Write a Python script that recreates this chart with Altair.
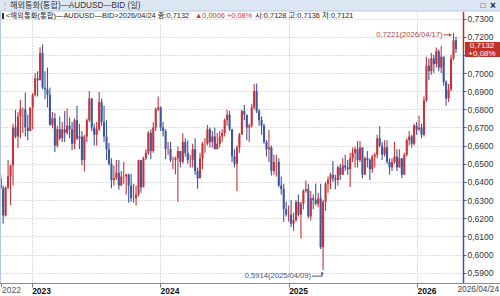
import altair as alt
import pandas as pd

# ---------------- data (weekly candles) ----------------
first_open = 0.6420

close_2022 = [0.6365, 0.6215, 0.6370, 0.6430, 0.6490, 0.6700, 0.6650, 0.6760, 0.6800, 0.6800, 0.6700, 0.6680, 0.6810]
high_2022 = [0.6440, 0.6380, 0.6375, 0.6522, 0.6495, 0.6720, 0.6797, 0.6785, 0.6851, 0.6810, 0.6893, 0.6770, 0.6810]
low_2022 = [0.6360, 0.6170, 0.6210, 0.6360, 0.6272, 0.6380, 0.6640, 0.6585, 0.6640, 0.6670, 0.6650, 0.6630, 0.6710]

close_2023 = [0.6880, 0.6970, 0.6960, 0.7110, 0.6920, 0.6910, 0.6880, 0.6715, 0.6750, 0.6600, 0.6690, 0.6640, 0.6690,
              0.6670, 0.6710, 0.6690, 0.6610, 0.6740, 0.6640, 0.6650, 0.6520, 0.6650, 0.6740, 0.6860, 0.6700, 0.6660,
              0.6690, 0.6840, 0.6730, 0.6650, 0.6580, 0.6500, 0.6410, 0.6420, 0.6450, 0.6380, 0.6430, 0.6430, 0.6440,
              0.6380, 0.6310, 0.6310, 0.6330, 0.6520, 0.6370, 0.6530, 0.6560, 0.6670, 0.6570, 0.6700, 0.6800, 0.6810]
high_2023 = [0.6890, 0.7000, 0.7010, 0.7142, 0.7158, 0.7010, 0.7030, 0.6920, 0.6785, 0.6780, 0.6710, 0.6760, 0.6730,
             0.6790, 0.6805, 0.6755, 0.6730, 0.6750, 0.6820, 0.6720, 0.6680, 0.6660, 0.6750, 0.6900, 0.6860, 0.6720,
             0.6730, 0.6895, 0.6860, 0.6820, 0.6740, 0.6615, 0.6530, 0.6490, 0.6520, 0.6520, 0.6460, 0.6510, 0.6445,
             0.6445, 0.6445, 0.6390, 0.6380, 0.6522, 0.6520, 0.6540, 0.6580, 0.6680, 0.6690, 0.6728, 0.6810, 0.6871]
low_2023 = [0.6690, 0.6870, 0.6870, 0.6960, 0.6910, 0.6855, 0.6810, 0.6710, 0.6695, 0.6565, 0.6590, 0.6630, 0.6620,
            0.6620, 0.6660, 0.6640, 0.6575, 0.6580, 0.6630, 0.6580, 0.6490, 0.6458, 0.6620, 0.6730, 0.6680, 0.6600,
            0.6600, 0.6680, 0.6710, 0.6620, 0.6520, 0.6490, 0.6365, 0.6380, 0.6410, 0.6357, 0.6380, 0.6390, 0.6330,
            0.6285, 0.6290, 0.6285, 0.6270, 0.6320, 0.6340, 0.6370, 0.6520, 0.6550, 0.6525, 0.6560, 0.6680, 0.6790]

close_2024 = [0.6700, 0.6680, 0.6580, 0.6580, 0.6520, 0.6520, 0.6530, 0.6570, 0.6510, 0.6620, 0.6560, 0.6520, 0.6520,
              0.6580, 0.6460, 0.6420, 0.6530, 0.6610, 0.6610, 0.6690, 0.6620, 0.6650, 0.6580, 0.6610, 0.6650, 0.6670,
              0.6740, 0.6770, 0.6690, 0.6540, 0.6500, 0.6590, 0.6660, 0.6790, 0.6770, 0.6700, 0.6710, 0.6810, 0.6900,
              0.6790, 0.6740, 0.6710, 0.6620, 0.6580, 0.6590, 0.6460, 0.6510, 0.6510, 0.6380, 0.6360, 0.6250, 0.6220]
high_2024 = [0.6815, 0.6730, 0.6690, 0.6620, 0.6620, 0.6540, 0.6540, 0.6595, 0.6570, 0.6668, 0.6640, 0.6630, 0.6550,
             0.6610, 0.6640, 0.6480, 0.6560, 0.6620, 0.6640, 0.6714, 0.6700, 0.6680, 0.6700, 0.6670, 0.6680, 0.6690,
             0.6750, 0.6798, 0.6790, 0.6690, 0.6580, 0.6600, 0.6670, 0.6798, 0.6824, 0.6770, 0.6720, 0.6830, 0.6940,
             0.6942, 0.6800, 0.6760, 0.6720, 0.6630, 0.6688, 0.6600, 0.6550, 0.6550, 0.6530, 0.6430, 0.6390, 0.6290]
low_2024 = [0.6680, 0.6650, 0.6525, 0.6550, 0.6510, 0.6470, 0.6442, 0.6290, 0.6480, 0.6500, 0.6540, 0.6500, 0.6480,
            0.6480, 0.6440, 0.6362, 0.6420, 0.6470, 0.6560, 0.6600, 0.6590, 0.6590, 0.6580, 0.6580, 0.6590, 0.6620,
            0.6650, 0.6710, 0.6680, 0.6510, 0.6480, 0.6348, 0.6560, 0.6660, 0.6740, 0.6630, 0.6620, 0.6700, 0.6800,
            0.6780, 0.6710, 0.6660, 0.6610, 0.6540, 0.6510, 0.6435, 0.6440, 0.6430, 0.6370, 0.6330, 0.6180, 0.6210]

close_2025 = [0.6220, 0.6170, 0.6190, 0.6290, 0.6220, 0.6280, 0.6350, 0.6360, 0.6210, 0.6310, 0.6300, 0.6280, 0.6310,
              0.6040, 0.6290, 0.6390, 0.6410, 0.6440, 0.6420, 0.6410, 0.6480, 0.6440, 0.6490, 0.6480, 0.6470, 0.6530,
              0.6560, 0.6580, 0.6520, 0.6590, 0.6440, 0.6530, 0.6520, 0.6470, 0.6540, 0.6550, 0.6640, 0.6600, 0.6550,
              0.6590, 0.6510, 0.6480, 0.6510, 0.6540, 0.6480, 0.6530, 0.6440, 0.6550, 0.6630, 0.6650, 0.6610, 0.6710]
high_2025 = [0.6270, 0.6300, 0.6230, 0.6300, 0.6330, 0.6290, 0.6360, 0.6408, 0.6390, 0.6350, 0.6330, 0.6391, 0.6340,
             0.6390, 0.6300, 0.6400, 0.6430, 0.6450, 0.6515, 0.6440, 0.6490, 0.6500, 0.6530, 0.6550, 0.6520, 0.6560,
             0.6590, 0.6595, 0.6625, 0.6625, 0.6590, 0.6540, 0.6570, 0.6530, 0.6550, 0.6560, 0.6660, 0.6707, 0.6620,
             0.6630, 0.6630, 0.6530, 0.6530, 0.6620, 0.6580, 0.6580, 0.6530, 0.6560, 0.6640, 0.6680, 0.6660, 0.6720]
low_2025 = [0.6180, 0.6150, 0.6131, 0.6180, 0.6210, 0.6088, 0.6250, 0.6340, 0.6200, 0.6187, 0.6250, 0.6270, 0.6260,
            0.6030, 0.5914, 0.6240, 0.6340, 0.6360, 0.6400, 0.6360, 0.6380, 0.6410, 0.6440, 0.6460, 0.6440, 0.6372,
            0.6510, 0.6480, 0.6480, 0.6510, 0.6420, 0.6440, 0.6480, 0.6410, 0.6450, 0.6480, 0.6530, 0.6590, 0.6520,
            0.6540, 0.6500, 0.6440, 0.6460, 0.6500, 0.6460, 0.6480, 0.6421, 0.6440, 0.6540, 0.6600, 0.6590, 0.6600]

close_2026 = [0.6690, 0.6700, 0.6660, 0.6850, 0.7040, 0.7010, 0.7080, 0.7050, 0.7120, 0.7030, 0.7090, 0.6950, 0.6860,
              0.6910, 0.7080, 0.7180, 0.7132]
high_2026 = [0.6730, 0.6766, 0.6720, 0.6870, 0.7090, 0.7080, 0.7110, 0.7100, 0.7140, 0.7130, 0.7150, 0.7090, 0.6960,
             0.6940, 0.7100, 0.7221, 0.7200]
low_2026 = [0.6660, 0.6680, 0.6640, 0.6650, 0.6840, 0.6960, 0.6990, 0.7000, 0.7030, 0.7010, 0.7000, 0.6930, 0.6820,
            0.6840, 0.6900, 0.7070, 0.7110]

week_starts = ["2022-10-05", "2023-01-04", "2024-01-03", "2025-01-01", "2025-12-31"]

y_ticks = [0.59, 0.60, 0.61, 0.62, 0.63, 0.64, 0.65, 0.66, 0.67, 0.68, 0.69, 0.70, 0.71, 0.72, 0.73]
year_ticks = [2023, 2024, 2025, 2026]

last_close = 0.7132
high_date, high_val = "2026-04-15", 0.7221
low_date, low_val = "2025-04-09", 0.5914

# ---------------- build table ----------------
frames = []
for start, c, h, l in zip(week_starts,
                          [close_2022, close_2023, close_2024, close_2025, close_2026],
                          [high_2022, high_2023, high_2024, high_2025, high_2026],
                          [low_2022, low_2023, low_2024, low_2025, low_2026]):
    d = pd.date_range(start, periods=len(c), freq="7D")
    frames.append(pd.DataFrame({"date": d.strftime("%Y-%m-%d"), "close": c, "high": h, "low": l}))
df = pd.concat(frames, ignore_index=True)
df["open"] = [first_open] + df["close"].tolist()[:-1]

RED = "#c4343a"
BLUE = "#3d57a0"
FONT = "Liberation Sans, Arial, Noto Sans CJK KR, sans-serif"

xscale = alt.Scale(type="utc",
                   domain=[alt.DateTime(year=2022, month=10, date=3, utc=True),
                           alt.DateTime(year=2026, month=5, date=12, utc=True)])
yscale = alt.Scale(domain=[0.58430, 0.74022], zero=False, nice=False)

xaxis = alt.Axis(values=[alt.DateTime(year=y, month=1, date=1, utc=True) for y in year_ticks],
                 format="%Y", labelAlign="left", labelBaseline="middle", labelFontWeight="bold",
                 labelColor="#111", labelFont=FONT, labelFontSize=8.5, labelPadding=3, labelFlush=False,
                 tickSize=4, tickColor="#777", domain=False, grid=True, gridDash=[1, 2],
                 gridColor="#b8b8b8", title=None)
# the 0,7100 label sits under the current-price box, so it is left blank
yaxis = alt.Axis(orient="right", values=y_ticks,
                 labelExpr="abs(datum.value - 0.71) < 0.0001 ? '' : replace(format(datum.value, '.4f'), '.', ',')",
                 labelFont=FONT, labelFontSize=8.5, labelColor="#333", labelPadding=1, labelFlush=False,
                 tickSize=3, tickColor="#666", domain=False, grid=True, gridDash=[1, 2],
                 gridColor="#bdbdbd", title=None)


def X(field="date:T"):
    return alt.X(field, scale=xscale, axis=xaxis)


def Y(field):
    return alt.Y(field, scale=yscale, axis=yaxis)


color = alt.condition("datum.close >= datum.open", alt.value(RED), alt.value(BLUE))

base = alt.Chart(df)
wick = base.mark_rule(strokeWidth=1.1).encode(x=X(), y=Y("low:Q"), y2="high:Q", color=color)
body = base.mark_rule(strokeWidth=2.1).encode(x=X(), y=Y("open:Q"), y2="close:Q", color=color)

one = alt.Chart(pd.DataFrame({"a": [0]}))
Ylast = alt.Y(datum=last_close, scale=yscale, axis=yaxis)

# axis lines
red_axis = one.mark_rule(color="#c62828", strokeWidth=1.5).encode(
    x=alt.value(463.5), y=Ylast, y2=alt.value(12))
blue_axis = one.mark_rule(color="#3656a8", strokeWidth=1.5).encode(
    x=alt.value(463.5), y=Ylast, y2=alt.value(283))
left_line = one.mark_rule(color="#b3c7e0", strokeWidth=1).encode(
    x=alt.value(0.5), y=alt.value(11), y2=alt.value(283))
bottom_line = one.mark_rule(color="#8c8c8c", strokeWidth=1).encode(
    x=alt.value(0), x2=alt.value(500), y=alt.value(283.5))
tick2022 = one.mark_rule(color="#777", strokeWidth=1).encode(
    x=alt.value(1.5), y=alt.value(283), y2=alt.value(287))
lbl2022 = one.mark_text(text="2022", align="left", baseline="middle", font=FONT, fontSize=8.5,
                        color="#555").encode(x=alt.value(2), y=alt.value(290))
lbl_last = one.mark_text(text="2026/04/24", align="right", baseline="middle", font=FONT, fontSize=8.3,
                         color="#444").encode(x=alt.value(499), y=alt.value(290))

# price box
box = one.mark_rect(color="#c0332b", yOffset=-7, y2Offset=8).encode(
    x=alt.value(465), x2=alt.value(500), y=Ylast, y2=alt.Y2(datum=last_close))
box_t1 = one.mark_text(text="0,7132", align="center", baseline="middle", font=FONT, fontSize=8,
                       color="white", dy=-3).encode(x=alt.value(482), y=Ylast)
box_t2 = one.mark_text(text="+0,08%", align="center", baseline="middle", font=FONT, fontSize=8,
                       color="white", dy=4.5).encode(x=alt.value(482), y=Ylast)

# annotations
ann_hi_color = "#b0463c"
hi_pt = pd.DataFrame({"date": [high_date], "v": [high_val]})
hi = alt.Chart(hi_pt)
hi_text = hi.mark_text(text="0,7221(2026/04/17)", align="right", baseline="middle",
                       font=FONT, fontSize=7.6, color=ann_hi_color, dx=-11, dy=2).encode(x=X(), y=Y("v:Q"))
hi_line = hi.mark_rule(color=ann_hi_color, xOffset=-10, x2Offset=-4, yOffset=2).encode(
    x=X(), x2="date:T", y=Y("v:Q"))
hi_arrow = hi.mark_point(shape="triangle-right", filled=True, size=12, color=ann_hi_color,
                         opacity=1, xOffset=-3, yOffset=2).encode(x=X(), y=Y("v:Q"))

ann_lo_color = "#46507e"
lo_pt = pd.DataFrame({"date": [low_date], "v": [low_val]})
lo = alt.Chart(lo_pt)
lo_text = lo.mark_text(text="0,5914(2025/04/09)", align="right", baseline="middle",
                       font=FONT, fontSize=7.6, color=ann_lo_color, dx=-12, dy=6).encode(x=X(), y=Y("v:Q"))
lo_hline = lo.mark_rule(color=ann_lo_color, xOffset=-11, x2Offset=-1, yOffset=6).encode(
    x=X(), x2="date:T", y=Y("v:Q"))
lo_vline = lo.mark_rule(color=ann_lo_color, xOffset=-1, yOffset=2, y2Offset=6).encode(
    x=X(), y=Y("v:Q"), y2="v:Q")
lo_arrow = lo.mark_point(shape="triangle-up", filled=True, size=10, color=ann_lo_color,
                         opacity=1, xOffset=-1, yOffset=3).encode(x=X(), y=Y("v:Q"))

# header
hdr_bg = one.mark_rect(color="#dce7f3").encode(x=alt.value(0), x2=alt.value(500), y=alt.value(0), y2=alt.value(11))
hdr_line = one.mark_rule(color="#b9cbe0").encode(x=alt.value(0), x2=alt.value(500), y=alt.value(11))
hdr_grip = one.mark_text(text="⋮", align="left", baseline="middle", fontSize=8, color="#888").encode(
    x=alt.value(1), y=alt.value(6))
hdr_title = one.mark_text(text="해외통화(통합)—AUDUSD—BID (일)", align="left", baseline="middle",
                          font=FONT, fontSize=8.2, color="#333").encode(x=alt.value(10), y=alt.value(6))
hdr_icon1 = one.mark_text(text="□", align="center", baseline="middle", fontSize=8, color="#222",
                          fontWeight="bold").encode(x=alt.value(483), y=alt.value(6))
hdr_icon2 = one.mark_text(text="×", align="center", baseline="middle", fontSize=10, color="#222",
                          fontWeight="bold").encode(x=alt.value(493), y=alt.value(5.5))
leg_mark = one.mark_rect(color="#333").encode(x=alt.value(2), x2=alt.value(4), y=alt.value(13), y2=alt.value(19))
leg1 = one.mark_text(text="<해외통화(통합)—AUDUSD—BID>2026/04/24 종:0,7132", align="left", baseline="middle",
                     font=FONT, fontSize=7.4, color="#222").encode(x=alt.value(6), y=alt.value(16))
leg2 = one.mark_text(text="▲0,0006 +0,08%", align="left", baseline="middle",
                     font=FONT, fontSize=7.4, color="#d03030").encode(x=alt.value(195), y=alt.value(16))
leg3 = one.mark_text(text="시:0,7128 고:0,7136 저:0,7121", align="left", baseline="middle",
                     font=FONT, fontSize=7.4, color="#222").encode(x=alt.value(255), y=alt.value(16))

chart = alt.layer(
    wick, body,
    bottom_line, tick2022, lbl2022, lbl_last,
    left_line, red_axis, blue_axis,
    box, box_t1, box_t2,
    hi_line, hi_arrow, hi_text,
    lo_hline, lo_vline, lo_arrow, lo_text,
    hdr_bg, hdr_line, hdr_grip, hdr_title, hdr_icon1, hdr_icon2,
    leg_mark, leg1, leg2, leg3,
).properties(
    width=463, height=283,
    autosize=alt.AutoSizeParams(type="none"),
    padding={"left": 0, "top": 0, "right": 37, "bottom": 13},
    background="white",
).configure_view(stroke=None)

chart.save("out.html", embed_options={"renderer": "svg", "actions": False})
